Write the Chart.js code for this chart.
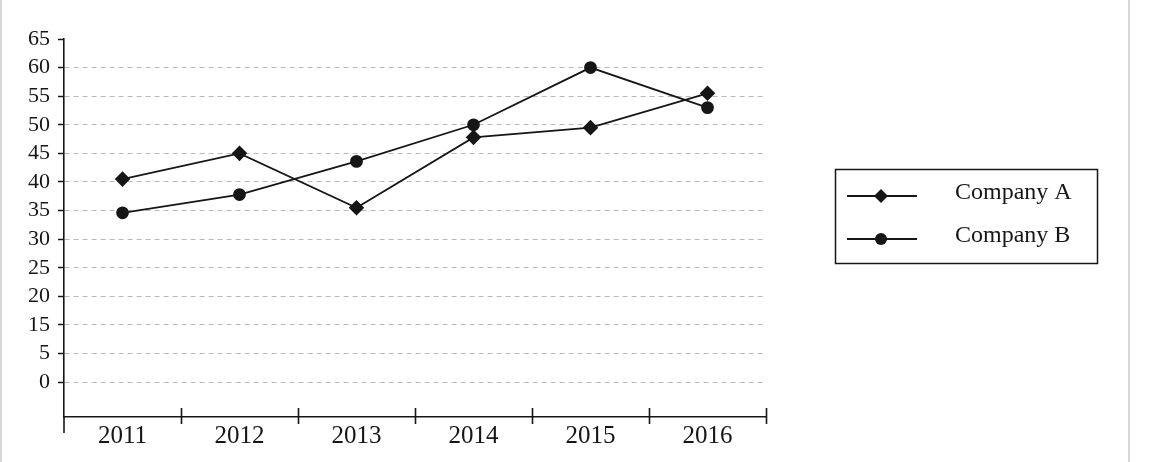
<!DOCTYPE html>
<html>
<head>
<meta charset="utf-8">
<script src="https://cdn.jsdelivr.net/npm/chart.js@4.4.0/dist/chart.umd.min.js"></script>
<style>
    html, body { margin: 0; padding: 0; background: #fff; }
    #contenitore { position: relative; width: 1162px; height: 462px; }
</style>
</head>
<body>
<div id="contenitore"><canvas id="grafico"></canvas></div>
<script>
// dati
var anni = ['2011', '2012', '2013', '2014', '2015', '2016'];
var companyA = [40.5, 45, 35.5, 47.8, 49.5, 55.5];
var companyB = [34.6, 37.8, 43.6, 50, 60, 53];
var nomiSerie = ['Company A', 'Company B'];
// etichette asse y come stampate (manca il 10)
var etichetteY = ['0', '5', '15', '20', '25', '30', '35', '40', '45', '50', '55', '60', '65'];

var nero = '#161616';
var grigioGriglia = '#b9b9b9';
var fontSerif = '"Liberation Serif", "Times New Roman", serif';

// plugin per i dettagli: tacche asse x, prolungamento asse y, legenda con bordo, cornice
var rifiniture = {
    id: 'rifiniture',
    afterDraw: function (chart) {
        var ctx = chart.ctx;
        var area = chart.chartArea;
        var xs = chart.scales.x;
        ctx.save();
        ctx.strokeStyle = nero;
        ctx.lineWidth = 1.6;

        // asse y che scende sotto l'asse x
        ctx.beginPath();
        ctx.moveTo(area.left, area.bottom);
        ctx.lineTo(area.left, area.bottom + 16);
        ctx.stroke();

        // tacche tra le categorie
        var n = anni.length;
        for (var i = 1; i <= n; i++) {
            var x = Math.round(xs.left + i * xs.width / n) + 0.5;
            ctx.beginPath();
            ctx.moveTo(x, area.bottom - 9);
            ctx.lineTo(x, area.bottom + 7);
            ctx.stroke();
        }

        // legenda
        ctx.lineWidth = 1.5;
        ctx.strokeRect(835.5, 169.5, 262, 94);
        var stili = ['rectRot', 'circle'];
        for (var j = 0; j < chart.data.datasets.length; j++) {
            var y = 196 + j * 43;
            ctx.strokeStyle = nero;
            ctx.lineWidth = 1.8;
            ctx.beginPath();
            ctx.moveTo(847, y);
            ctx.lineTo(917, y);
            ctx.stroke();
            ctx.fillStyle = nero;
            ctx.beginPath();
            if (stili[j] === 'rectRot') {
                ctx.moveTo(881, y - 7);
                ctx.lineTo(888, y);
                ctx.lineTo(881, y + 7);
                ctx.lineTo(874, y);
                ctx.closePath();
            } else {
                ctx.arc(881, y, 6, 0, Math.PI * 2);
            }
            ctx.fill();
            ctx.font = '24px ' + fontSerif;
            ctx.textBaseline = 'middle';
            ctx.textAlign = 'left';
            ctx.fillText(chart.data.datasets[j].label, 955, y - 3);
        }

        // cornice grigia dell'immagine
        ctx.strokeStyle = '#d6d6d6';
        ctx.lineWidth = 2;
        ctx.beginPath();
        ctx.moveTo(1, 0);
        ctx.lineTo(1, chart.height);
        ctx.moveTo(1129, 0);
        ctx.lineTo(1129, chart.height);
        ctx.stroke();
        ctx.restore();
    }
};

var grafico = new Chart(document.getElementById('grafico'), {
    type: 'line',
    data: {
        labels: anni,
        datasets: [{
            label: nomiSerie[0],
            data: companyA,
            borderColor: nero,
            backgroundColor: nero,
            borderWidth: 1.8,
            pointStyle: 'rectRot',
            pointRadius: 6.5,
            tension: 0
        }, {
            label: nomiSerie[1],
            data: companyB,
            borderColor: nero,
            backgroundColor: nero,
            borderWidth: 1.8,
            pointStyle: 'circle',
            pointRadius: 5.5,
            tension: 0
        }]
    },
    options: {
        responsive: true,
        maintainAspectRatio: false,
        animation: false,
        layout: { padding: { top: 39, right: 396, left: 0, bottom: 0 } },
        plugins: {
            legend: { display: false },
            tooltip: { enabled: false }
        },
        scales: {
            x: {
                offset: true,
                grid: { display: false, drawTicks: false },
                border: { color: nero, width: 1.6 },
                ticks: {
                    color: nero,
                    padding: 4,
                    maxRotation: 0,
                    font: { family: fontSerif, size: 25 }
                },
                afterFit: function (s) { s.height = 45; }
            },
            y: {
                min: -1.1,
                max: 65,
                grid: {
                    color: function (c) {
                        return c.tick && c.tick.value === 65 ? 'rgba(0,0,0,0)' : grigioGriglia;
                    },
                    lineWidth: 1,
                    tickColor: nero,
                    tickLength: 6,
                    tickWidth: 1.5
                },
                border: { color: nero, width: 1.6, dash: [5, 4] },
                ticks: {
                    color: nero,
                    padding: 8,
                    font: { family: fontSerif, size: 22 },
                    callback: function (value, index) { return etichetteY[index]; }
                },
                afterBuildTicks: function (s) {
                    s.ticks = etichetteY.map(function (e, i) { return { value: 5 + 5 * i }; });
                },
                afterFit: function (s) { s.width = 64; }
            }
        }
    },
    plugins: [rifiniture]
});
</script>
</body>
</html>
